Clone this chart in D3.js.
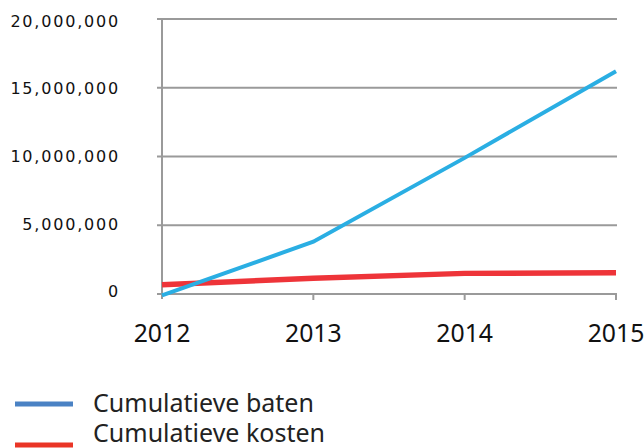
<!DOCTYPE html>
<html><head><meta charset="utf-8">
<script src="https://cdn.jsdelivr.net/npm/d3@7"></script>
<style>body{margin:0;background:#fff;}svg{display:block;}</style>
</head><body><svg id="c" width="644" height="448"></svg>
<script>
const years = [2012, 2013, 2014, 2015];
const baten = [-100000, 3800000, 9900000, 16200000];
const kosten = [680000, 1150000, 1500000, 1550000];
const yTicks = [0, 5000000, 10000000, 15000000, 20000000];
const seriesNames = ["Cumulatieve baten", "Cumulatieve kosten"];
const lineColors = ["#2aaee3", "#ee3439"];
const legendColors = ["#4a82c4", "#ea3526"];

const svg = d3.select("#c");
const font = "'Noto Sans', sans-serif";
const x = d3.scaleLinear().domain([2012, 2015]).range([162, 616]);
const y = d3.scaleLinear().domain([0, 20000000]).range([294, 19]);
const yLab = d3.scaleLinear().domain([0, 20000000]).range([291.5, 20.8]);

// gridlines
svg.append("g").selectAll("line").data(yTicks).join("line")
  .attr("x1", 157).attr("x2", 617)
  .attr("y1", d => y(d)).attr("y2", d => y(d))
  .attr("stroke", "#9a9a9a").attr("stroke-width", 2);
// y axis line
svg.append("line").attr("x1", x(2012)).attr("x2", x(2012))
  .attr("y1", y(20000000)).attr("y2", 299)
  .attr("stroke", "#9a9a9a").attr("stroke-width", 2);
// x ticks
svg.append("g").selectAll("line").data(years.slice(1)).join("line")
  .attr("x1", d => x(d)).attr("x2", d => x(d))
  .attr("y1", 294).attr("y2", 300)
  .attr("stroke", "#9a9a9a").attr("stroke-width", 2);

// y labels
const fmt = d3.format(",");
svg.append("g").selectAll("text").data(yTicks).join("text")
  .attr("x", 120).attr("y", d => yLab(d) + 5.9)
  .attr("text-anchor", "end")
  .attr("font-family", "'DejaVu Sans', sans-serif").attr("font-size", 16).attr("fill", "#111")
  .attr("letter-spacing", 1.8)
  .text(d => fmt(d));
// x labels
svg.append("g").selectAll("text").data(years).join("text")
  .attr("x", d => x(d)).attr("y", 341.5)
  .attr("text-anchor", "middle")
  .attr("font-family", font).attr("font-size", 24.8).attr("fill", "#111")
  .text(d => d);

const line = d3.line().x((d, i) => x(years[i])).y(d => y(d));
svg.append("path").attr("d", line(kosten)).attr("fill", "none")
  .attr("stroke", lineColors[1]).attr("stroke-width", 5.5);
svg.append("path").attr("d", line(baten)).attr("fill", "none")
  .attr("stroke", lineColors[0]).attr("stroke-width", 4);

// legend
const leg = svg.append("g");
const legY = [404, 445];
seriesNames.forEach((n, i) => {
  leg.append("line").attr("x1", 15).attr("x2", 73)
    .attr("y1", legY[i]).attr("y2", legY[i])
    .attr("stroke", legendColors[i]).attr("stroke-width", 5);
  leg.append("text").attr("x", 93).attr("y", [412, 442][i])
    .attr("font-family", font).attr("font-size", 25).attr("fill", "#222")
    .text(n);
});
</script></body></html>
